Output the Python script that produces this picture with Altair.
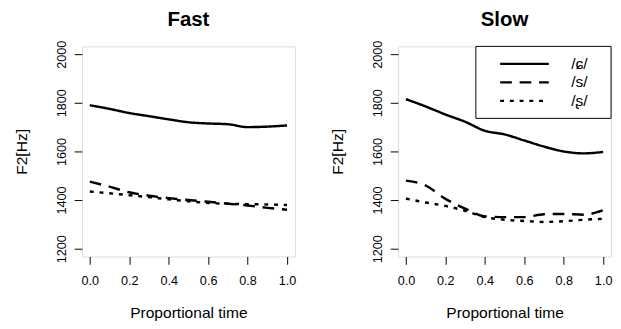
import altair as alt
import pandas as pd

# ---- data ----
t = [0.0, 0.1, 0.2, 0.3, 0.4, 0.5, 0.6, 0.7, 0.8, 0.9, 1.0]
categories = ["/ɕ/", "/s/", "/ʂ/"]

fast_alveolopalatal = [1790, 1775, 1758, 1745, 1732, 1720, 1715, 1712, 1700, 1702, 1707]
fast_s = [1476, 1455, 1432, 1418, 1408, 1400, 1393, 1385, 1378, 1368, 1360]
fast_retroflex = [1435, 1428, 1420, 1412, 1403, 1395, 1388, 1385, 1383, 1382, 1380]

slow_alveolopalatal = [1815, 1785, 1752, 1722, 1685, 1670, 1645, 1620, 1600, 1592, 1598]
slow_s = [1480, 1460, 1405, 1365, 1333, 1330, 1330, 1342, 1343, 1340, 1358]
slow_retroflex = [1406, 1390, 1376, 1356, 1330, 1319, 1314, 1310, 1313, 1319, 1323]

x_ticks = [0.0, 0.2, 0.4, 0.6, 0.8, 1.0]
y_ticks = [1200, 1400, 1600, 1800, 2000]

FONT = "Liberation Sans"
W, H = 219, 216


def long_df(series):
    rows = []
    for cat, vals in zip(categories, series):
        for ti, v in zip(t, vals):
            rows.append({"t": ti, "F2": v, "cons": cat})
    return pd.DataFrame(rows)


fast_df = long_df([fast_alveolopalatal, fast_s, fast_retroflex])
slow_df = long_df([slow_alveolopalatal, slow_s, slow_retroflex])

x_axis = alt.Axis(values=x_ticks, format=".1f", title="Proportional time",
                  domain=False, grid=False, tickSize=8, tickColor="black",
                  labelPadding=11, labelFontSize=13, labelFont=FONT, labelColor="black",
                  titleFontSize=16, titleFont=FONT, titleFontWeight="normal",
                  titleColor="black", titlePadding=18, labelFlush=False)
y_axis = alt.Axis(values=y_ticks, format="d", title="F2[Hz]", domain=False, grid=False,
                  tickSize=8, tickColor="black", labelPadding=6, labelAngle=270,
                  labelAlign="center", labelBaseline="bottom",
                  labelFontSize=13, labelFont=FONT, labelColor="black",
                  titleFontSize=16, titleFont=FONT, titleFontWeight="normal",
                  titleColor="black", titlePadding=27, labelFlush=False)

dash_scale = alt.Scale(domain=categories, range=[[1, 0], [12, 8], [4, 6]])
dash_enc = alt.StrokeDash("cons:N", scale=dash_scale, legend=None, sort=categories)


def lines(df):
    return alt.Chart(df).mark_line(color="black", strokeWidth=2.5,
                                   interpolate="monotone").encode(
        x=alt.X("t:Q", scale=alt.Scale(domain=[-0.04, 1.04], nice=False, zero=False),
                axis=x_axis),
        y=alt.Y("F2:Q", scale=alt.Scale(domain=[1168, 2032], nice=False, zero=False),
                axis=y_axis),
        strokeDash=dash_enc,
    )


def legend_layers():
    # legend box in the top-right corner of the plot, drawn in pixel space
    box = alt.Chart(pd.DataFrame({"cons": [categories[0]]})).mark_rect(
        fill="white", stroke="black", strokeWidth=1
    ).encode(x=alt.value(80), x2=alt.value(W), y=alt.value(0), y2=alt.value(74))
    layers = [box]
    for i, cat in enumerate(categories):
        d = pd.DataFrame({"cons": [cat]})
        yy = 18 + 19 * i
        layers.append(alt.Chart(d).mark_rule(color="black", strokeWidth=2.5).encode(
            x=alt.value(105), x2=alt.value(155), y=alt.value(yy), strokeDash=dash_enc))
        layers.append(alt.Chart(d).mark_text(
            align="left", baseline="middle", fontSize=16, font=FONT, color="black"
        ).encode(x=alt.value(178), y=alt.value(yy), text="cons:N"))
    return layers


def title(name):
    return alt.Title(name, fontSize=21, fontWeight="bold", font=FONT,
                     color="black", anchor="middle", offset=11)


fast = lines(fast_df).properties(width=W, height=H, title=title("Fast"))
slow = alt.layer(lines(slow_df), *legend_layers()).properties(
    width=W, height=H, title=title("Slow"))

chart = alt.hconcat(fast, slow, spacing=33).properties(
    padding={"left": 5, "top": -4, "right": 0, "bottom": 0}
).configure_view(stroke="black", strokeWidth=1).configure(background="white")

chart.save("out.html", embed_options={"renderer": "svg", "actions": False})
